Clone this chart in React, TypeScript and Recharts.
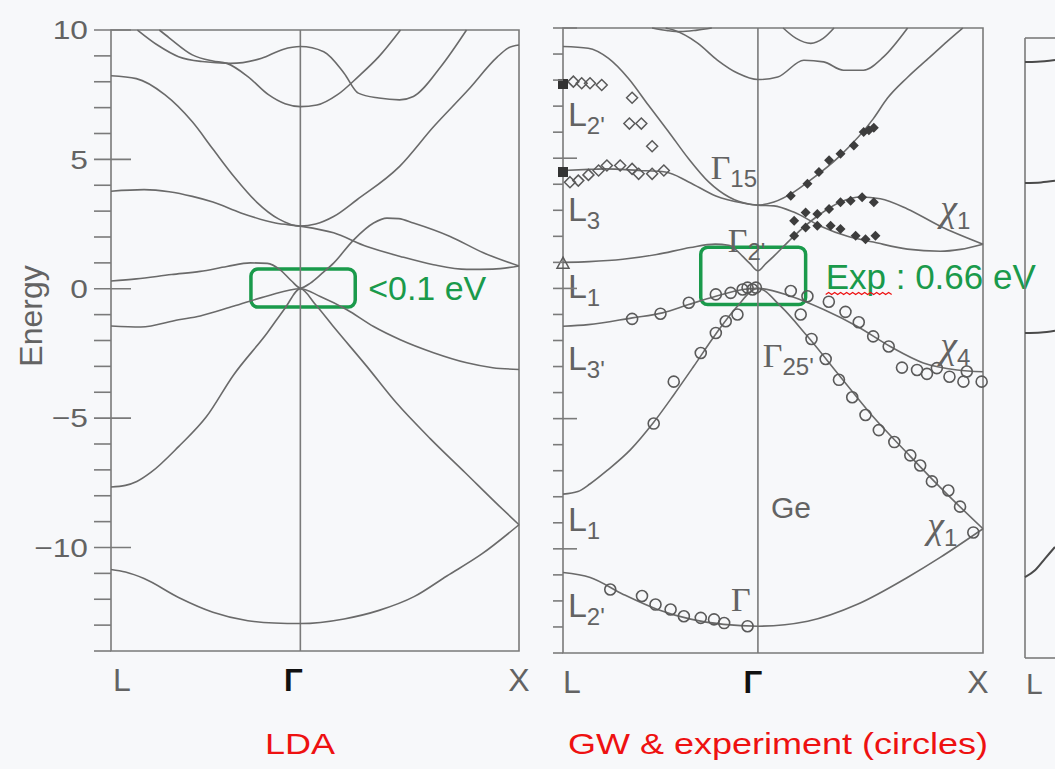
import React from 'react';
import {
  ComposedChart,
  Line,
  Scatter,
  XAxis,
  YAxis,
  ReferenceLine,
  ReferenceArea,
  ReferenceDot,
} from 'recharts';

type Pair = [number, number];

const SANS = '"Liberation Sans", Arial, Helvetica, sans-serif';
const SERIF = '"Liberation Serif", "Times New Roman", serif';
const INK = '#6a6a6a';
const FRAME = '#7a7a7a';
const TEXT = '#636363';
const GREEN = '#1a9a4b';
const RED = '#ee1111';

// axes
const energyTicks = [-14, -13, -12, -11, -10, -9, -8, -7, -6, -5, -4, -3, -2, -1, 0, 1, 2, 3, 4, 5, 6, 7, 8, 9, 10];
const kTicks = [-0.866, 0, 1];
const kLabels = ['L', 'Γ', 'X'];

// LDA bands, [k, E] with k: L = -0.866, Γ = 0, X = 1
const ldaBand1: Pair[] = [[-0.866, -10.85], [-0.8, -10.95], [-0.715, -11.2], [-0.557, -11.93], [-0.4, -12.5], [-0.24, -12.83], [-0.12, -12.92], [0, -12.94], [0.2, -12.76], [0.36, -12.43], [0.52, -11.9], [0.67, -11.1], [0.83, -10.25], [1, -9.12]];
const ldaBand2: Pair[] = [[-0.866, -7.66], [-0.8, -7.6], [-0.748, -7.45], [-0.684, -7.1], [-0.557, -6.1], [-0.43, -4.95], [-0.307, -3.35], [-0.151, -1.7], [-0.07, -0.75], [0, 0], [0.07, -0.62], [0.151, -1.46], [0.304, -3.0], [0.438, -4.4], [0.595, -5.8], [0.753, -7.1], [0.91, -8.4], [1, -9.12]];
const ldaBand3: Pair[] = [[-0.866, -1.44], [-0.73, -1.48], [-0.557, -1.2], [-0.458, -1.05], [-0.307, -0.68], [-0.151, -0.28], [0, 0], [0.091, -0.3], [0.213, -0.81], [0.335, -1.46], [0.457, -1.97], [0.609, -2.47], [0.761, -2.86], [0.88, -3.05], [1, -3.12]];
const ldaBand4: Pair[] = [[-0.866, 0.3], [-0.75, 0.38], [-0.589, 0.55], [-0.458, 0.67], [-0.336, 0.86], [-0.229, 1.0], [-0.151, 0.98], [-0.092, 0.73], [-0.04, 0.3], [0, 0.03], [0.046, 0.22], [0.1, 0.6], [0.152, 0.99], [0.244, 1.89], [0.335, 2.54], [0.396, 2.73], [0.45, 2.71], [0.517, 2.54], [0.685, 2.02], [0.837, 1.39], [1, 0.88]];
const ldaBand5: Pair[] = [[-0.866, 3.77], [-0.715, 3.83], [-0.6, 3.75], [-0.494, 3.57], [-0.4, 3.35], [-0.272, 2.93], [-0.114, 2.54], [0, 2.42], [0.152, 2.16], [0.304, 1.63], [0.457, 1.25], [0.609, 0.93], [0.761, 0.75], [0.88, 0.76], [1, 0.88]];
const ldaBand6: Pair[] = [[-0.866, 8.23], [-0.75, 8.12], [-0.62, 7.5], [-0.494, 6.45], [-0.4, 5.4], [-0.3, 4.3], [-0.2, 3.35], [-0.1, 2.7], [0, 2.42], [0.07, 2.5], [0.152, 2.79], [0.259, 3.44], [0.454, 4.73], [0.61, 6.27], [0.768, 7.69], [0.9, 8.95], [0.95, 9.3], [1, 9.42]];
const ldaBand7: Pair[] = [[-0.645, 10], [-0.6, 9.7], [-0.494, 9.04], [-0.4, 8.8], [-0.336, 8.71], [-0.24, 8.2], [-0.146, 7.5], [-0.07, 7.15], [0, 7.04], [0.076, 7.1], [0.17, 7.5], [0.265, 8.2], [0.359, 8.97], [0.458, 10]];
const ldaBand8: Pair[] = [[-0.745, 10], [-0.65, 9.4], [-0.557, 8.97], [-0.45, 8.78], [-0.32, 8.71], [-0.177, 8.91], [-0.08, 9.25], [0, 9.36], [0.107, 9.16], [0.2, 8.33], [0.265, 7.56], [0.359, 7.37], [0.454, 7.3], [0.517, 7.43], [0.643, 8.59], [0.76, 10]];
const ldaBands = [ldaBand1, ldaBand2, ldaBand3, ldaBand4, ldaBand5, ldaBand6, ldaBand7, ldaBand8];

// GW bands
const gwBand1: Pair[] = [[-0.866, -10.91], [-0.745, -11.1], [-0.598, -11.75], [-0.446, -12.33], [-0.299, -12.7], [-0.152, -12.9], [0, -12.97], [0.221, -12.78], [0.442, -12.13], [0.664, -11.1], [0.81, -10.33], [1, -9.23]];
const gwBand2: Pair[] = [[-0.866, -7.9], [-0.8, -7.8], [-0.745, -7.5], [-0.67, -6.99], [-0.567, -6.2], [-0.464, -5.15], [-0.375, -4.1], [-0.286, -3.0], [-0.187, -1.75], [-0.098, -0.75], [0, 0], [0.102, -0.69], [0.221, -1.85], [0.367, -3.4], [0.513, -4.94], [0.664, -6.33], [0.81, -7.64], [1, -9.23]];
const gwBand3: Pair[] = [[-0.866, -1.45], [-0.754, -1.39], [-0.558, -1.13], [-0.424, -0.94], [-0.308, -0.62], [-0.187, -0.3], [-0.067, -0.04], [0, 0], [0.146, -0.3], [0.292, -0.81], [0.442, -1.46], [0.588, -2.23], [0.735, -2.86], [0.885, -3.13], [1, -3.2]];
const gwBand4: Pair[] = [[-0.866, 1.0], [-0.75, 1.03], [-0.6, 1.12], [-0.45, 1.3], [-0.3, 1.57], [-0.19, 1.7], [-0.13, 1.66], [-0.1, 1.5], [-0.07, 1.25], [-0.035, 0.95], [0, 0.68], [0.035, 0.95], [0.071, 1.24], [0.11, 1.58], [0.159, 2.0], [0.265, 2.78], [0.367, 3.32], [0.456, 3.51], [0.544, 3.44], [0.664, 3.05], [0.81, 2.39], [1, 1.7]];
const gwBand5: Pair[] = [[-0.866, 9.29], [-0.754, 9.22], [-0.665, 8.84], [-0.576, 8.07], [-0.487, 7.04], [-0.397, 6.02], [-0.308, 4.98], [-0.219, 4.09], [-0.129, 3.51], [-0.04, 3.24], [0, 3.2], [0.071, 3.17], [0.159, 2.93], [0.279, 2.39], [0.398, 2.0], [0.513, 1.78], [0.664, 1.51], [0.81, 1.43], [0.9, 1.5], [1, 1.7]];
const gwBand6: Pair[] = [[-0.866, 4.53], [-0.75, 4.57], [-0.679, 4.59], [-0.531, 4.53], [-0.411, 4.47], [-0.308, 4.09], [-0.187, 3.55], [-0.067, 3.28], [0, 3.2], [0.071, 3.32], [0.159, 3.7], [0.221, 4.08], [0.367, 5.11], [0.513, 6.52], [0.575, 7.3], [0.664, 8.1], [0.765, 8.89], [0.84, 9.48], [0.91, 10]];
const gwBand7: Pair[] = [[-0.41, 10], [-0.375, 9.92], [-0.268, 9.42], [-0.179, 8.76], [-0.089, 8.26], [0, 8.02], [0.088, 8.12], [0.204, 8.76], [0.292, 8.7], [0.38, 8.38], [0.469, 8.38], [0.558, 8.89], [0.665, 10]];
const gwBand8: Pair[] = [[-0.47, 10], [-0.4, 9.9], [-0.344, 9.86], [-0.27, 9.92], [-0.205, 10]];
const gwBand9: Pair[] = [[0.112, 10], [0.17, 9.6], [0.235, 9.41], [0.29, 9.6], [0.338, 10]];
const gwBands = [gwBand1, gwBand2, gwBand3, gwBand4, gwBand5, gwBand6, gwBand7, gwBand8, gwBand9];

// experiment
const expCircles: Pair[] = [
  [-0.559, -1.17], [-0.433, -0.97], [-0.307, -0.55], [-0.187, -0.23], [-0.121, -0.17], [-0.068, -0.04], [-0.046, 0.03], [-0.024, -0.04], [-0.009, 0.03],
  [-0.091, -1.0], [-0.143, -1.26], [-0.187, -1.71], [-0.254, -2.48], [-0.374, -3.58], [-0.463, -5.19],
  [0.146, -0.1], [0.22, -0.3], [0.315, -0.51], [0.389, -0.9], [0.448, -1.3], [0.512, -1.84], [0.581, -2.23], [0.64, -3.04], [0.707, -3.13], [0.751, -3.28], [0.795, -3.06], [0.851, -3.39], [0.913, -3.58], [0.928, -3.19], [0.994, -3.58],
  [0.19, -1.0], [0.238, -1.94], [0.301, -2.71], [0.36, -3.51], [0.419, -4.18], [0.478, -4.86], [0.537, -5.44], [0.606, -5.9], [0.677, -6.41], [0.721, -6.8], [0.773, -7.41], [0.846, -7.76], [0.898, -8.38], [0.957, -9.37],
  [-0.656, -11.56], [-0.515, -11.81], [-0.455, -12.14], [-0.388, -12.33], [-0.329, -12.59], [-0.254, -12.65], [-0.195, -12.71], [-0.15, -12.85], [-0.046, -12.97],
];
const expDiamonds: Pair[] = [
  [-0.82, 7.94], [-0.783, 7.88], [-0.746, 7.88], [-0.694, 7.81], [-0.559, 7.32], [-0.571, 6.33], [-0.518, 6.33], [-0.47, 5.46],
  [-0.835, 4.08], [-0.798, 4.14], [-0.753, 4.36], [-0.708, 4.53], [-0.671, 4.72], [-0.612, 4.72], [-0.559, 4.59], [-0.53, 4.4], [-0.47, 4.4], [-0.418, 4.53],
];
const expFilledDiamonds: Pair[] = [
  [0.146, 3.56], [0.22, 4.02], [0.271, 4.47], [0.316, 4.92], [0.367, 5.17], [0.426, 5.49], [0.47, 6.01], [0.493, 6.07], [0.515, 6.17],
  [0.161, 2.6], [0.212, 2.92], [0.264, 2.86], [0.316, 3.05], [0.367, 3.31], [0.412, 3.37], [0.463, 3.5], [0.515, 3.31],
  [0.161, 2.02], [0.212, 2.34], [0.264, 2.41], [0.323, 2.41], [0.367, 2.28], [0.434, 2.02], [0.478, 1.89], [0.522, 2.02],
];
const expSquares: Pair[] = [[-0.866, 7.85], [-0.866, 4.47]];
const expTriangles: Pair[] = [[-0.866, 0.93]];

// neighbouring figure, cut off at the right edge
const nextBand1: Pair[] = [[0, 9.07], [0.06, 9.08], [0.15, 9.15]];
const nextBand2: Pair[] = [[0, 4.39], [0.08, 4.41], [0.15, 4.47]];
const nextBand3: Pair[] = [[0, -1.42], [0.08, -1.4], [0.15, -1.33]];
const nextBand4: Pair[] = [[0, -10.87], [0.05, -10.6], [0.1, -10.15], [0.15, -9.7]];
const nextBands = [nextBand1, nextBand2, nextBand3, nextBand4];

// symmetry labels in the GW panel
const gwLabels = [
  { k: -0.844, e: 6.22, main: 'L', sub: "2'", serif: false },
  { k: -0.844, e: 2.59, main: 'L', sub: '3', serif: false },
  { k: -0.844, e: -0.35, main: 'L', sub: '1', serif: false },
  { k: -0.844, e: -3.13, main: 'L', sub: "3'", serif: false },
  { k: -0.844, e: -9.3, main: 'L', sub: '1', serif: false },
  { k: -0.844, e: -12.6, main: 'L', sub: "2'", serif: false },
  { k: -0.21, e: 4.21, main: 'Γ', sub: '15', serif: true },
  { k: -0.134, e: 1.39, main: 'Γ', sub: "2'", serif: true },
  { k: 0.022, e: -3.01, main: 'Γ', sub: "25'", serif: true },
  { k: -0.12, e: -12.39, main: 'Γ', sub: '', serif: true },
  { k: 0.81, e: 2.59, main: 'χ', sub: '1', serif: true },
  { k: 0.81, e: -2.66, main: 'χ', sub: '4', serif: true },
  { k: 0.752, e: -9.58, main: 'χ', sub: '1', serif: true },
];

const toPoints = (band: Pair[]) => band.map(([k, e]) => ({ k, e }));

function makeKTick(labels: string[], shifts: number[]) {
  return function KTick(props: any) {
    const { x, y, index } = props;
    const label = labels[index];
    const isGamma = label === 'Γ';
    return (
      <text
        x={x + shifts[index]}
        y={y + 40}
        textAnchor={label === 'L' ? 'start' : 'middle'}
        fontFamily={SANS}
        fontSize={isGamma ? 31 : 32}
        fontWeight={isGamma ? 'bold' : 'normal'}
        fill={isGamma ? '#111' : TEXT}
      >
        {label}
      </text>
    );
  };
}

const LdaKTick = makeKTick(kLabels, [2, -7, 0]);
const GwKTick = makeKTick(kLabels, [0, -5, -5]);

function LdaETick(props: any) {
  const { x, y, payload } = props;
  const v = payload.value as number;
  const major = v % 5 === 0;
  return (
    <g>
      <line x1={x - 17} x2={major ? x + 20 : x} y1={y} y2={y} stroke={FRAME} strokeWidth={1.6} />
      {major && (
        <text
          transform={`translate(${x - 23},${y}) scale(1.22,1)`}
          dy="0.36em"
          textAnchor="end"
          fontFamily={SANS}
          fontSize={26}
          fill={TEXT}
        >
          {v < 0 ? `−${-v}` : v}
        </text>
      )}
    </g>
  );
}

function GwLeftTick(props: any) {
  const { x, y, payload } = props;
  const major = (payload.value as number) % 5 === 0;
  return <line x1={x - 10} x2={major ? x + 14 : x} y1={y} y2={y} stroke={FRAME} strokeWidth={1.6} />;
}

function GwRightTick(props: any) {
  const { x, y, payload } = props;
  const major = (payload.value as number) % 5 === 0;
  return <line x1={major ? x - 14 : x - 8} x2={x + 10} y1={y} y2={y} stroke={FRAME} strokeWidth={1.8} />;
}

const GreenBox = (p: any) => (
  <rect x={p.x} y={p.y} width={p.width} height={p.height} rx={7} ry={7} fill="none" stroke={GREEN} strokeWidth={3.5} />
);

const OpenCircle = (p: any) => <circle cx={p.cx} cy={p.cy} r={5.5} fill="none" stroke="#5a5a5a" strokeWidth={1.6} />;
const OpenDiamond = (p: any) => (
  <polygon
    points={`${p.cx},${p.cy - 5.5} ${p.cx + 5.5},${p.cy} ${p.cx},${p.cy + 5.5} ${p.cx - 5.5},${p.cy}`}
    fill="none"
    stroke="#5a5a5a"
    strokeWidth={1.5}
  />
);
const FilledDiamond = (p: any) => (
  <polygon points={`${p.cx},${p.cy - 5} ${p.cx + 5},${p.cy} ${p.cx},${p.cy + 5} ${p.cx - 5},${p.cy}`} fill="#3d3d3d" />
);
const FilledSquare = (p: any) => <rect x={p.cx - 5} y={p.cy - 5} width={10} height={10} fill="#333" />;
const OpenTriangle = (p: any) => (
  <polygon points={`${p.cx},${p.cy - 7} ${p.cx + 6},${p.cy + 4} ${p.cx - 6},${p.cy + 4}`} fill="none" stroke="#5a5a5a" strokeWidth={1.5} />
);

function wavy(x: number, y: number, len: number) {
  let d = `M${x},${y}`;
  for (let i = 0; i < len / 6; i++) d += ' l3,-2 l3,2';
  return d;
}

function bandLines(bands: Pair[][], color = INK, width = 1.6) {
  return bands.map((b, i) => (
    <Line
      key={i}
      yAxisId="e"
      data={toPoints(b)}
      dataKey="e"
      type="monotone"
      dot={false}
      activeDot={false}
      stroke={color}
      strokeWidth={width}
      isAnimationActive={false}
    />
  ));
}

const titleStyle: React.CSSProperties = {
  position: 'absolute',
  top: 727,
  transform: 'translateX(-50%) scaleX(1.2)',
  fontSize: 30,
  lineHeight: '34px',
  color: RED,
  whiteSpace: 'nowrap',
};

export default function App() {
  return (
    <div
      style={{
        position: 'absolute',
        left: 0,
        top: 0,
        width: 1055,
        height: 769,
        overflow: 'hidden',
        background: '#f7f8fa',
        fontFamily: SANS,
      }}
    >
      {/* LDA panel */}
      <div style={{ position: 'absolute', left: 0, top: 0 }}>
        <ComposedChart width={540} height={700} margin={{ top: 30, right: 21, bottom: 9, left: 31 }}>
          <XAxis
            dataKey="k"
            type="number"
            domain={[-0.866, 1]}
            ticks={kTicks}
            interval={0}
            height={40}
            tickSize={0}
            tickMargin={0}
            axisLine={false}
            tickLine={false}
            tick={(p: any) => <LdaKTick {...p} />}
          />
          <YAxis
            yAxisId="e"
            dataKey="e"
            type="number"
            domain={[-14, 10]}
            ticks={energyTicks}
            interval={0}
            width={80}
            tickSize={0}
            tickMargin={0}
            axisLine={false}
            tickLine={false}
            tick={(p: any) => <LdaETick {...p} />}
          />
          <ReferenceArea yAxisId="e" x1={-0.866} x2={1} y1={-14} y2={10} fill="none" stroke={FRAME} strokeWidth={1.6} />
          <ReferenceLine yAxisId="e" x={0} stroke={FRAME} strokeWidth={1.6} />
          {bandLines(ldaBands)}
          <ReferenceArea yAxisId="e" x1={-0.226} x2={0.251} y1={-0.71} y2={0.76} shape={GreenBox} />
          <ReferenceDot
            yAxisId="e"
            x={0.31}
            y={-0.425}
            r={0}
            shape={(p: any) => (
              <text x={p.cx} y={p.cy} fontFamily={SANS} fontSize={34} fill={GREEN}>
                {'<0.1 eV'}
              </text>
            )}
          />
        </ComposedChart>
      </div>

      {/* GW panel */}
      <div style={{ position: 'absolute', left: 530, top: 0 }}>
        <ComposedChart width={525} height={700} margin={{ top: 28, right: 32, bottom: 7, left: 0 }}>
          <XAxis
            dataKey="k"
            type="number"
            domain={[-0.866, 1]}
            ticks={kTicks}
            interval={0}
            height={40}
            tickSize={0}
            tickMargin={0}
            axisLine={false}
            tickLine={false}
            tick={(p: any) => <GwKTick {...p} />}
          />
          <YAxis
            yAxisId="e"
            dataKey="e"
            type="number"
            domain={[-14, 10]}
            ticks={energyTicks}
            interval={0}
            width={33}
            tickSize={0}
            tickMargin={0}
            axisLine={false}
            tickLine={false}
            tick={(p: any) => <GwLeftTick {...p} />}
          />
          <YAxis
            yAxisId="r"
            orientation="right"
            dataKey="e"
            type="number"
            domain={[-14, 10]}
            ticks={energyTicks}
            interval={0}
            width={40}
            tickSize={0}
            tickMargin={0}
            axisLine={false}
            tickLine={false}
            tick={(p: any) => <GwRightTick {...p} />}
          />
          <ReferenceArea yAxisId="e" x1={-0.866} x2={1} y1={-14} y2={10} fill="none" stroke={FRAME} strokeWidth={1.6} />
          <ReferenceLine yAxisId="e" x={0} stroke={FRAME} strokeWidth={1.6} />
          {bandLines(gwBands)}
          <Scatter yAxisId="e" data={toPoints(expCircles)} shape={OpenCircle} isAnimationActive={false} />
          <Scatter yAxisId="e" data={toPoints(expDiamonds)} shape={OpenDiamond} isAnimationActive={false} />
          <Scatter yAxisId="e" data={toPoints(expFilledDiamonds)} shape={FilledDiamond} isAnimationActive={false} />
          <Scatter yAxisId="e" data={toPoints(expSquares)} shape={FilledSquare} isAnimationActive={false} />
          <Scatter yAxisId="e" data={toPoints(expTriangles)} shape={OpenTriangle} isAnimationActive={false} />
          {gwLabels.map((l, i) => (
            <ReferenceDot
              key={i}
              yAxisId="e"
              x={l.k}
              y={l.e}
              r={0}
              shape={(p: any) => (
                <text x={p.cx} y={p.cy} fontFamily={SANS} fontSize={34} fill={TEXT}>
                  <tspan
                    fontFamily={l.serif ? SERIF : SANS}
                    fontSize={l.main === 'χ' ? 38 : 34}
                    fontStyle={l.main === 'χ' ? 'italic' : 'normal'}
                  >
                    {l.main}
                  </tspan>
                  {l.sub && (
                    <tspan fontSize={24} dy={8}>
                      {l.sub}
                    </tspan>
                  )}
                </text>
              )}
            />
          ))}
          <ReferenceDot
            yAxisId="e"
            x={0.058}
            y={-8.8}
            r={0}
            shape={(p: any) => (
              <text x={p.cx} y={p.cy} fontFamily={SANS} fontSize={30} fill={TEXT}>
                Ge
              </text>
            )}
          />
          <ReferenceArea yAxisId="e" x1={-0.254} x2={0.212} y1={-0.62} y2={1.58} shape={GreenBox} />
          <ReferenceDot
            yAxisId="e"
            x={0.301}
            y={-0.04}
            r={0}
            shape={(p: any) => (
              <g>
                <text x={p.cx} y={p.cy} fontFamily={SANS} fontSize={35} fill={GREEN}>
                  Exp : 0.66 eV
                </text>
                <path d={wavy(p.cx, p.cy + 5, 66)} fill="none" stroke={RED} strokeWidth={1.2} />
              </g>
            )}
          />
        </ComposedChart>
      </div>

      {/* edge of the neighbouring figure */}
      <div style={{ position: 'absolute', left: 1000, top: 0 }}>
        <ComposedChart width={55} height={700} margin={{ top: 38, right: 0, bottom: 42, left: 25 }}>
          <XAxis dataKey="k" type="number" domain={[0, 0.15]} hide />
          <YAxis yAxisId="e" dataKey="e" type="number" domain={[-14, 10]} hide />
          <ReferenceLine yAxisId="e" x={0} stroke={FRAME} strokeWidth={1.6} />
          <ReferenceLine yAxisId="e" y={10} stroke={FRAME} strokeWidth={1.6} />
          <ReferenceLine yAxisId="e" y={-14} stroke={FRAME} strokeWidth={1.6} />
          {bandLines(nextBands, '#4a4a4a', 2)}
        </ComposedChart>
      </div>
      <div
        style={{
          position: 'absolute',
          left: 1026,
          top: 668,
          fontSize: 30,
          lineHeight: '32px',
          color: TEXT,
        }}
      >
        L
      </div>

      {/* titles */}
      <div
        style={{
          position: 'absolute',
          left: 31,
          top: 316,
          transform: 'translate(-50%, -50%) rotate(-90deg)',
          fontSize: 32,
          color: TEXT,
          whiteSpace: 'nowrap',
        }}
      >
        Energy
      </div>
      <div style={{ ...titleStyle, left: 300 }}>LDA</div>
      <div style={{ ...titleStyle, left: 778 }}>GW &amp; experiment (circles)</div>
    </div>
  );
}
